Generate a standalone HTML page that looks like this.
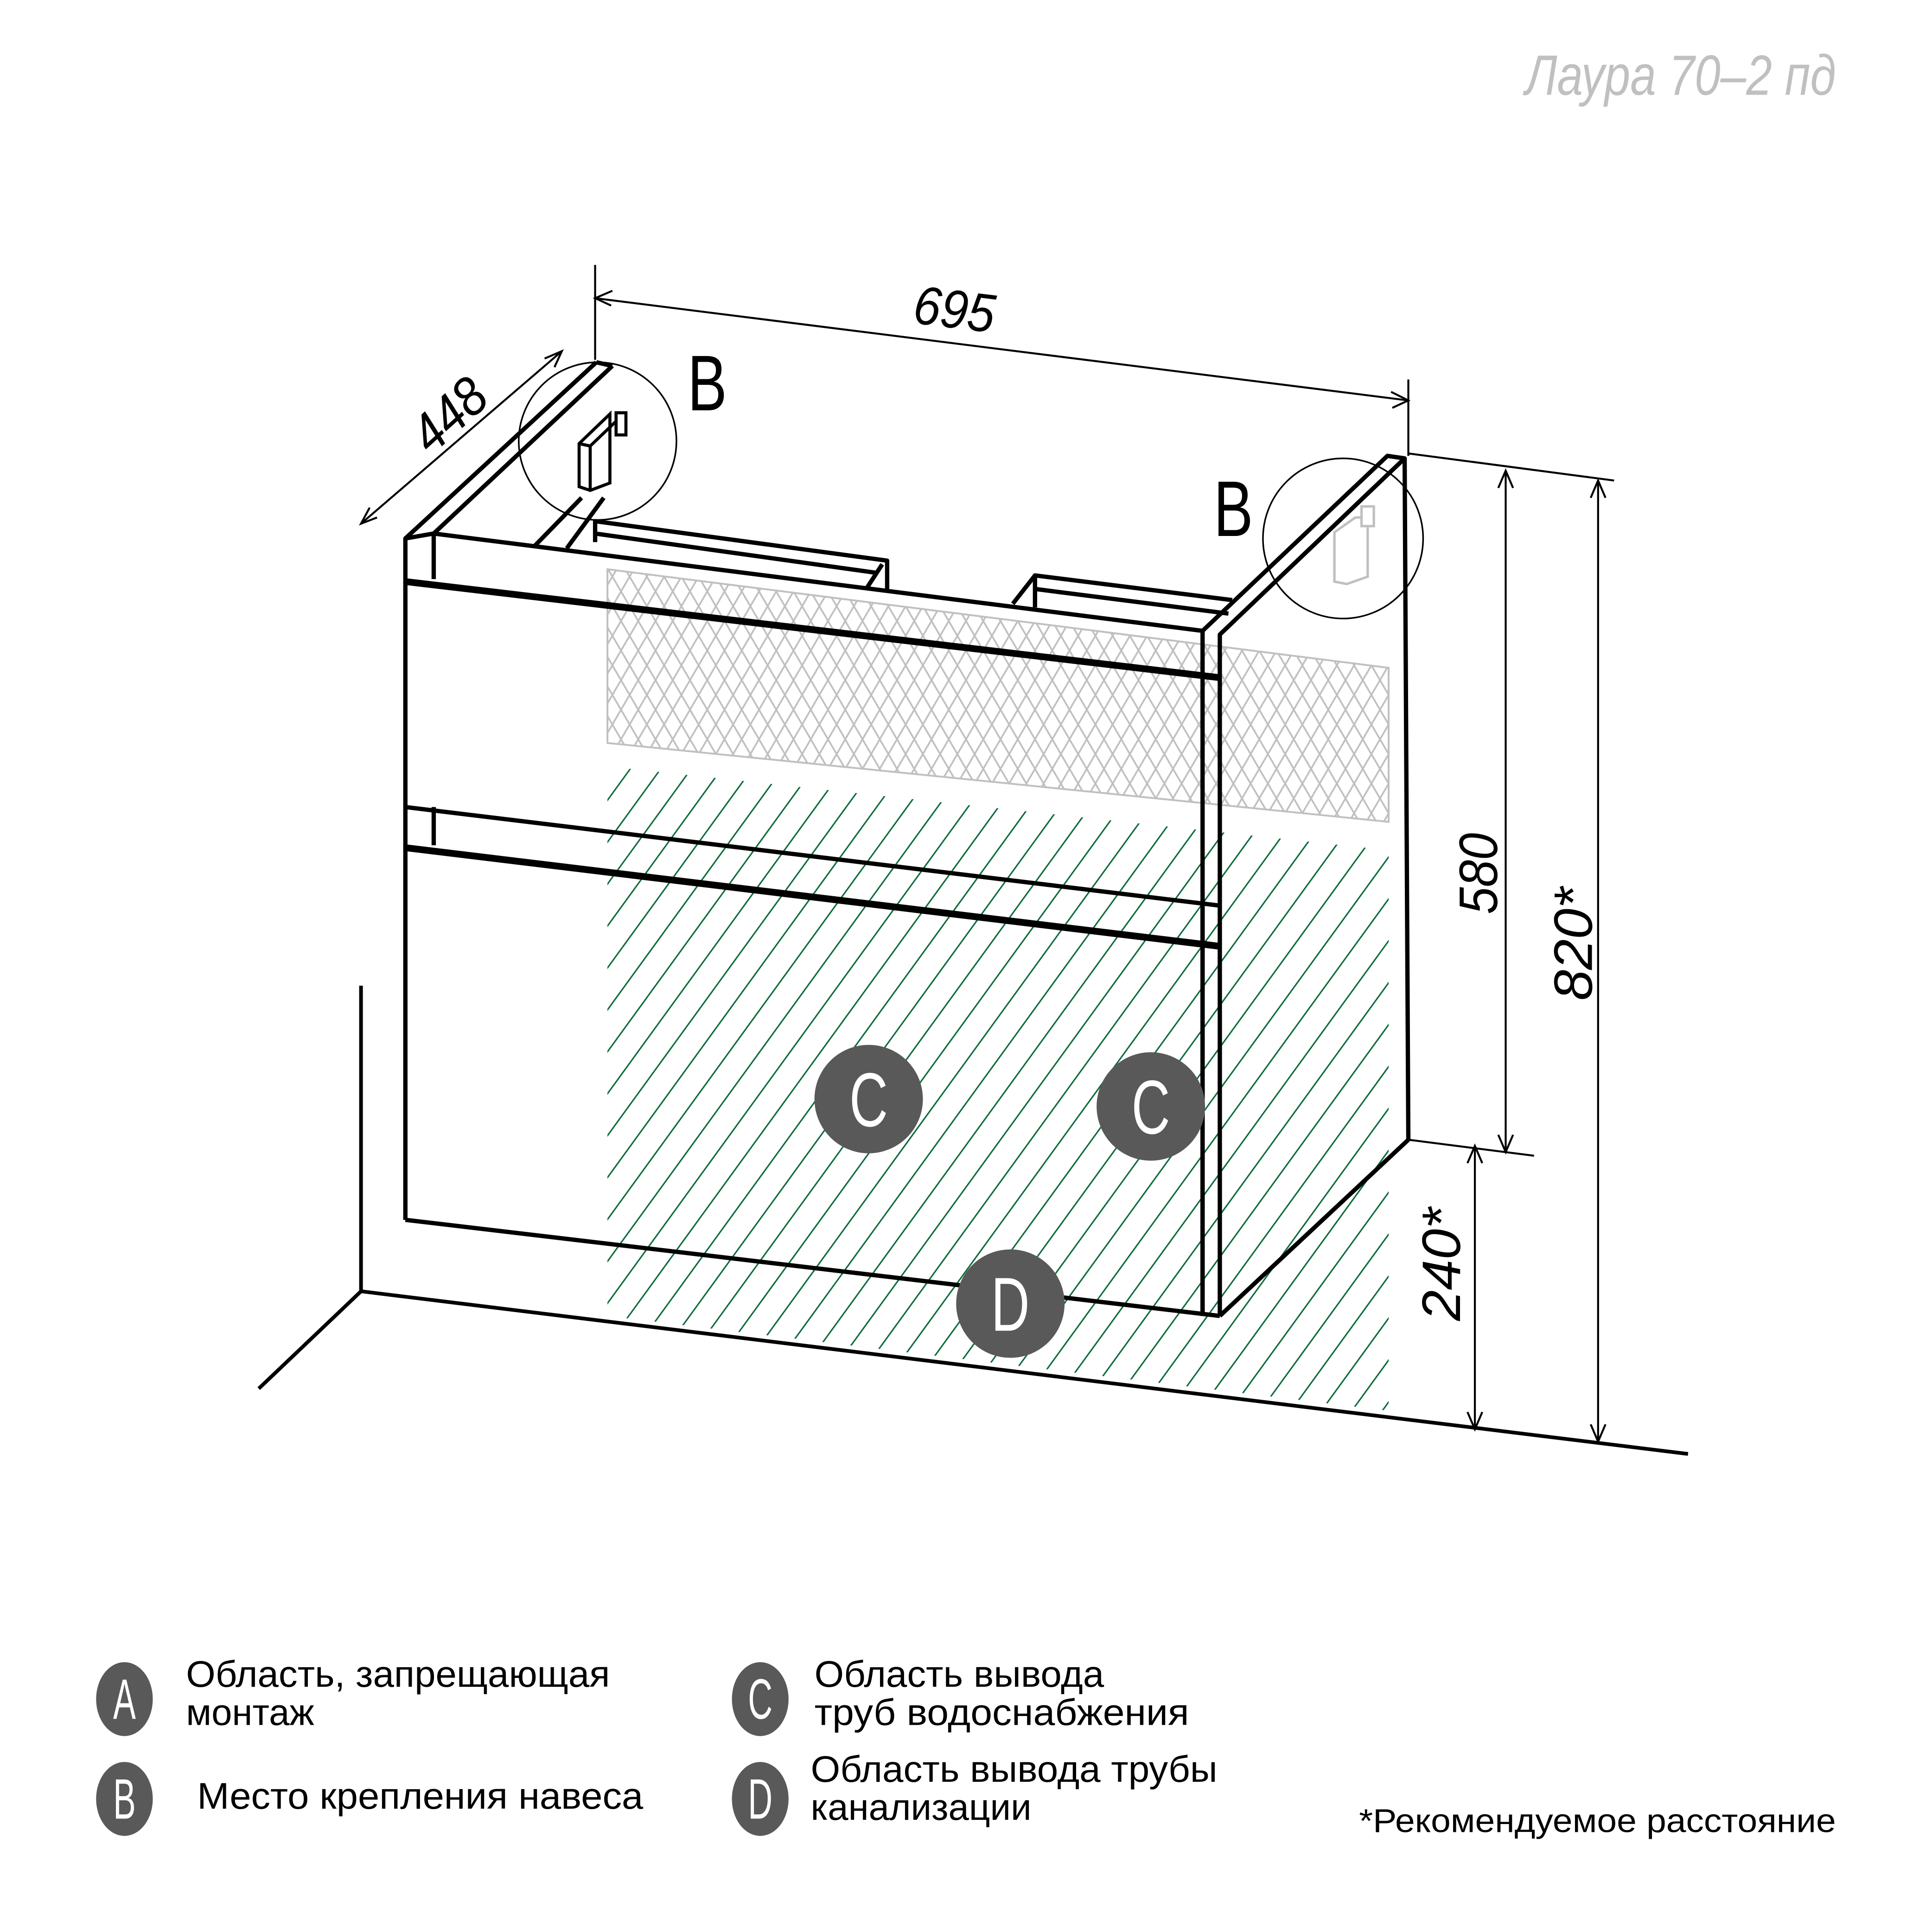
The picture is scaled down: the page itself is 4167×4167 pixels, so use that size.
<!DOCTYPE html>
<html><head><meta charset="utf-8"><style>html,body{margin:0;padding:0;background:#fff}svg{display:block}</style></head>
<body>
<svg width="4167" height="4167" viewBox="0 0 1568 1568" xmlns="http://www.w3.org/2000/svg">
<defs>
<pattern id="green" patternUnits="userSpaceOnUse" width="20" height="40" patternTransform="rotate(36)">
<line x1="0" y1="0" x2="0" y2="40" stroke="#0d6b3a" stroke-width="2.4"/>
</pattern>
<pattern id="grid" patternUnits="userSpaceOnUse" width="14" height="24">
<path d="M0,0 L14,24 M14,0 L0,24 M-7,12 L0,24 M7,-12 L0,0 M21,12 L14,24 M7,36 L14,24" stroke="#c0c0c0" stroke-width="1.4" fill="none"/>
</pattern>
</defs>
<g font-family="'Liberation Sans', 'DejaVu Sans', sans-serif">
<text x="1238" y="77" font-size="46" fill="#c0c0c0" font-style="italic" textLength="252" lengthAdjust="spacingAndGlyphs">Лаура 70–2 пд</text>
</g>
<polygon points="493,462 1127,542 1127,667 493,603" fill="url(#grid)" stroke="#c0c0c0" stroke-width="1.5"/>
<polygon points="493,622 1127,690 1127,1145 493,1068" fill="url(#green)"/>
<g stroke="#000" stroke-width="3" fill="none">
<line x1="293" y1="800" x2="293" y2="1048"/>
<line x1="293" y1="1048" x2="210" y2="1127"/>
<line x1="293" y1="1048" x2="1370" y2="1180"/>
</g>
<g stroke="#000" stroke-width="3.5" fill="none" stroke-linejoin="round">
<polyline points="329,990 329,437 352,433 976,512 976,1068"/>
<line x1="352" y1="433" x2="352" y2="470"/>
<line x1="329" y1="437" x2="484" y2="294"/>
<line x1="352" y1="433" x2="497" y2="297"/>
<line x1="484" y1="294" x2="497" y2="297"/>
<line x1="434" y1="443" x2="472" y2="404"/>
<line x1="460" y1="445" x2="490" y2="404"/>
<polyline points="483,440 483,423 720,455 720,478"/>
<line x1="483" y1="433" x2="712" y2="465"/>
<line x1="703" y1="478" x2="716" y2="458"/>
<polyline points="822,490 840,467 1000,487"/>
<line x1="840" y1="478" x2="997" y2="498"/>
<line x1="840" y1="467" x2="840" y2="493"/>
<polyline points="976,512 1126,370 1140,372 990,515 990,1068"/>
<line x1="1140" y1="372" x2="1143" y2="925"/>
<line x1="990" y1="1068" x2="1143" y2="925"/>
<line x1="329" y1="990" x2="990" y2="1068"/>
<line x1="329" y1="655" x2="990" y2="735"/>
<line x1="352" y1="655" x2="352" y2="686"/>
<line x1="976" y1="735" x2="976" y2="1068"/>
</g>
<g stroke="#000" stroke-width="5.5">
<line x1="329" y1="472" x2="990" y2="550"/>
<line x1="329" y1="688" x2="990" y2="768"/>
</g>
<g stroke="#000" stroke-width="2.5" fill="#fff">
<polygon points="470,360 495,336 495,392 479,398 470,395"/>
<line x1="470" y1="360" x2="479" y2="362"/><line x1="479" y1="362" x2="479" y2="398"/>
<line x1="479" y1="362" x2="502" y2="340"/>
<rect x="500" y="335" width="8" height="18"/>
</g>
<g stroke="#c0c0c0" stroke-width="2" fill="#fff">
<polygon points="1083,432 1100,420 1110,420 1110,468 1093,474 1083,472"/>
<rect x="1105" y="411" width="10" height="16"/>
</g>
<circle cx="485" cy="358" r="64" stroke="#000" stroke-width="1.3" fill="none"/>
<circle cx="1090" cy="437" r="65" stroke="#000" stroke-width="1.3" fill="none"/>
<g font-family="'Liberation Sans', sans-serif" font-size="64" fill="#000">
<text x="558" y="333" transform="scale(0.75,1)" transform-origin="558 333">B</text>
<text x="985" y="435" transform="scale(0.75,1)" transform-origin="985 435">B</text>
</g>
<g stroke="#000" stroke-width="1.6" fill="none">
<line x1="483" y1="215" x2="483" y2="292"/>
<line x1="1143" y1="308" x2="1143" y2="370"/>
<line x1="483" y1="242" x2="1143" y2="325"/>
<polyline points="497,236 483,242 496,248"/>
<polyline points="1129,318 1143,325 1130,331"/>
<line x1="293" y1="425" x2="456" y2="285"/>
<polyline points="300,412 293,425 306,420"/>
<polyline points="442,291 456,285 450,298"/>
<line x1="1143" y1="368" x2="1310" y2="390"/>
<line x1="1143" y1="925" x2="1245" y2="938"/>
<line x1="1222" y1="382" x2="1222" y2="935"/>
<polyline points="1216,396 1222,382 1228,396"/><polyline points="1216,921 1222,935 1228,921"/>
<line x1="1297" y1="390" x2="1297" y2="1170"/>
<polyline points="1291,404 1297,390 1303,404"/><polyline points="1291,1156 1297,1170 1303,1156"/>
<line x1="1197" y1="930" x2="1197" y2="1160"/>
<polyline points="1191,944 1197,930 1203,944"/><polyline points="1191,1146 1197,1160 1203,1146"/>
</g>
<g font-family="'Liberation Sans', sans-serif" font-size="44" fill="#000" font-style="italic">
<text x="740" y="262" transform="rotate(7 740 262)" textLength="66" lengthAdjust="spacingAndGlyphs">695</text>
<text x="350" y="370" transform="rotate(-42 350 370)" textLength="66" lengthAdjust="spacingAndGlyphs">448</text>
<text x="1215" y="742" transform="rotate(-90 1215 742)" textLength="66" lengthAdjust="spacingAndGlyphs">580</text>
<text x="1292" y="812" transform="rotate(-90 1292 812)" textLength="92" lengthAdjust="spacingAndGlyphs">820*</text>
<text x="1185" y="1072" transform="rotate(-90 1185 1072)" textLength="92" lengthAdjust="spacingAndGlyphs">240*</text>
</g>
<g fill="#595959"><circle cx="705" cy="892" r="44"/><circle cx="934" cy="898" r="44"/><circle cx="820" cy="1058" r="44"/></g>
<g font-family="'Liberation Sans', sans-serif" font-size="62" fill="#fff" text-anchor="middle">
<text x="705" y="914" transform="scale(0.7,1)" transform-origin="705 914">C</text>
<text x="934" y="920" transform="scale(0.7,1)" transform-origin="934 920">C</text>
<text x="820" y="1080" transform="scale(0.7,1)" transform-origin="820 1080">D</text>
</g>
<g fill="#595959"><ellipse cx="101" cy="1379" rx="23" ry="30"/><ellipse cx="101" cy="1460" rx="23" ry="30"/><ellipse cx="617" cy="1379" rx="23" ry="30"/><ellipse cx="617" cy="1460" rx="23" ry="30"/></g>
<g font-family="'Liberation Sans', sans-serif" font-size="46" fill="#fff" text-anchor="middle">
<text x="101" y="1395" transform="scale(0.6,1)" transform-origin="101 1395">A</text>
<text x="101" y="1476" transform="scale(0.6,1)" transform-origin="101 1476">B</text>
<text x="617" y="1395" transform="scale(0.6,1)" transform-origin="617 1395">C</text>
<text x="617" y="1476" transform="scale(0.6,1)" transform-origin="617 1476">D</text>
</g>
<g font-family="'Liberation Sans', sans-serif" font-size="30" fill="#000">
<text x="151" y="1369" textLength="344" lengthAdjust="spacingAndGlyphs">Область, запрещающая</text>
<text x="151" y="1400">монтаж</text>
<text x="160" y="1468" textLength="362" lengthAdjust="spacingAndGlyphs">Место крепления навеса</text>
<text x="661" y="1369" textLength="235" lengthAdjust="spacingAndGlyphs">Область вывода</text>
<text x="661" y="1400" textLength="304" lengthAdjust="spacingAndGlyphs">труб водоснабжения</text>
<text x="658" y="1446" textLength="330" lengthAdjust="spacingAndGlyphs">Область вывода трубы</text>
<text x="658" y="1477">канализации</text>
<text x="1103" y="1487" font-size="27" textLength="387" lengthAdjust="spacingAndGlyphs">*Рекомендуемое расстояние</text>
</g>
</svg>
</body></html>
